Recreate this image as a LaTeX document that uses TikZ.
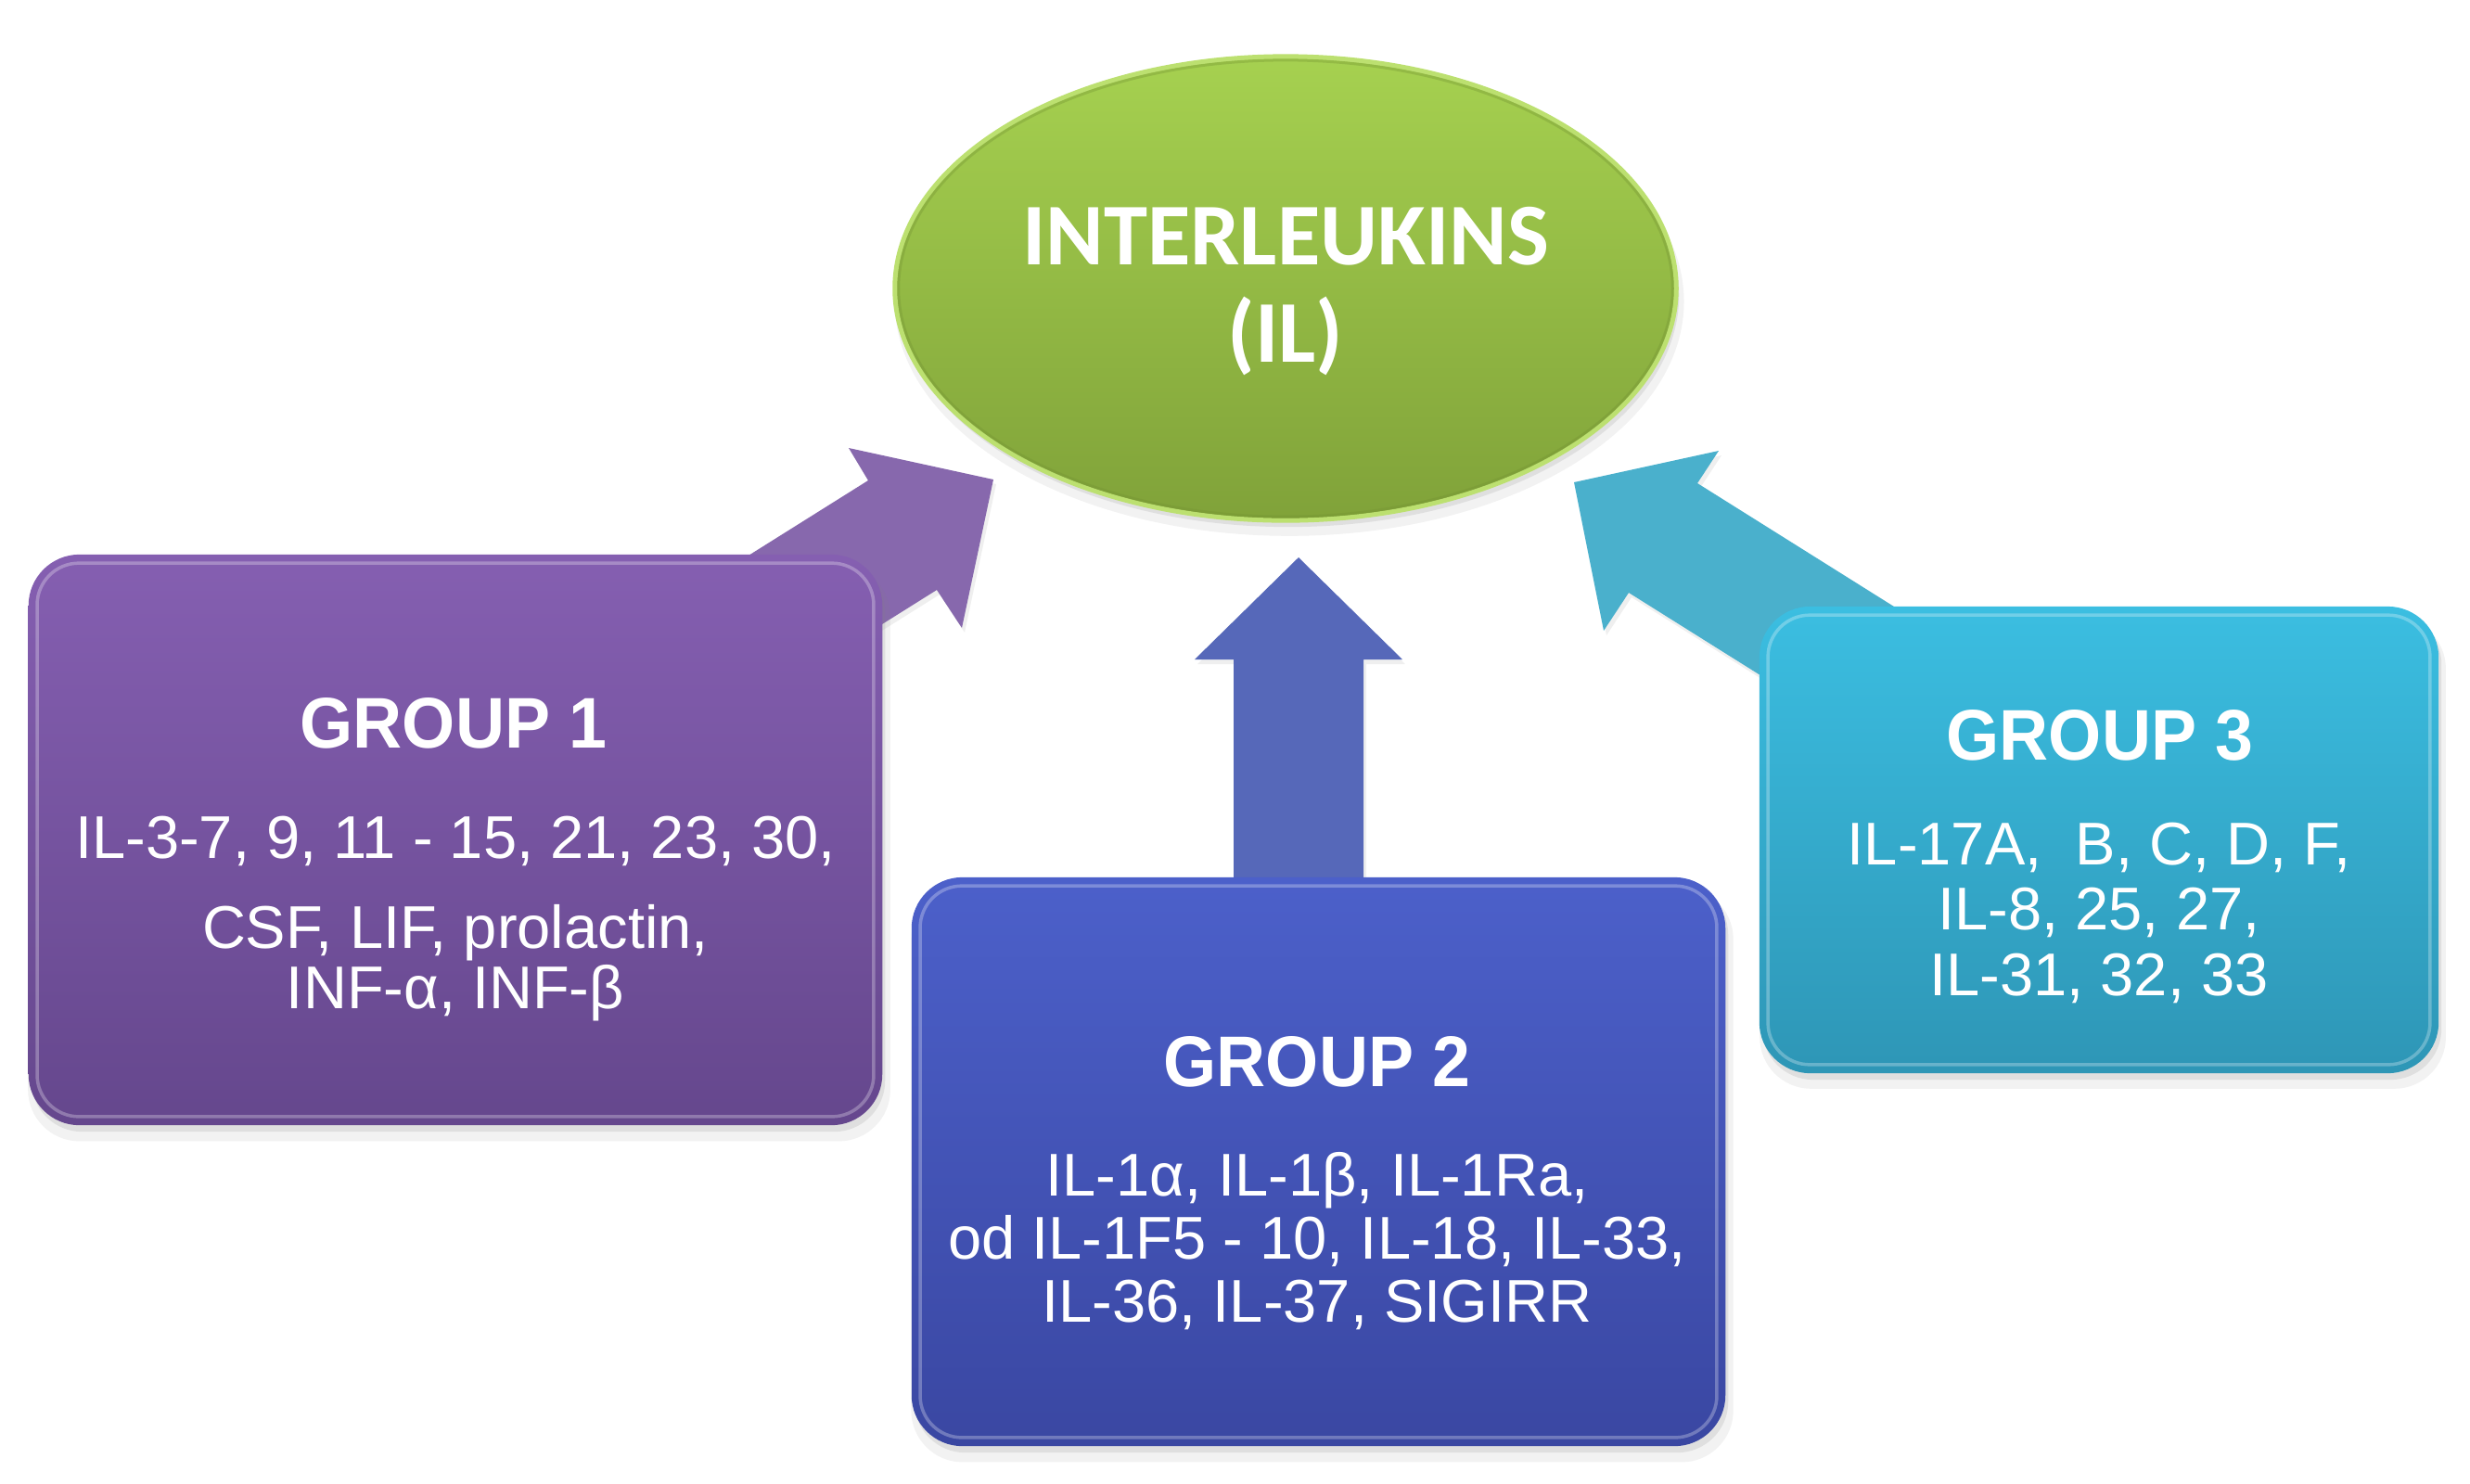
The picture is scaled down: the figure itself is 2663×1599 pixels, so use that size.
\documentclass[tikz,border=0pt]{standalone}
\usepackage{fontspec}
\setmainfont{Liberation Sans}
\newfontfamily\calfont{Carlito}
\newfontfamily\grpfont[FakeStretch=0.95]{Liberation Sans Bold}
\usetikzlibrary{shapes.geometric,shadows}
\definecolor{gTop}{HTML}{A6D150}
\definecolor{gBot}{HTML}{80A239}
\definecolor{gRim}{HTML}{BCE070}
\definecolor{pTop}{HTML}{855FB1}
\definecolor{pBot}{HTML}{65478D}
\definecolor{pArr}{HTML}{8768AD}
\definecolor{bTop}{HTML}{4C60CA}
\definecolor{bBot}{HTML}{3A47A2}
\definecolor{bArr}{HTML}{5668B9}
\definecolor{tTop}{HTML}{3BBEE1}
\definecolor{tBot}{HTML}{2E96B6}
\definecolor{tArr}{HTML}{4AB0CC}
\begin{document}
\begin{tikzpicture}[x=0.01cm,y=-0.01cm,
  softshadow/.style={drop shadow={opacity=0.10,shadow xshift=0.04cm,shadow yshift=-0.14cm,shadow scale=1.01},
                     drop shadow={opacity=0.16,shadow xshift=0.03cm,shadow yshift=-0.07cm}},
  groupbox/.style={rectangle,rounded corners=0.55cm,inner sep=0,softshadow},
  bevel/.style={draw=white,draw opacity=0.28,line width=0.035cm,rounded corners=0.45cm},
  txt/.style={text=white,anchor=base,inner sep=0},
  ttl/.style={txt,font=\grpfont\fontsize{22}{26}\selectfont},
  body/.style={txt,font=\fontsize{18.5}{22}\selectfont},
  iltxt/.style={txt,font=\calfont\bfseries\fontsize{27}{32}\selectfont}]
\useasboundingbox (0,0) rectangle (2663,1599);
\fill[white] (0,0) rectangle (2663,1599);

% ---------- central ellipse ----------
\node[ellipse,minimum width=8.42cm,minimum height=5.0cm,inner sep=0,
      top color=gTop,bottom color=gBot,draw=gRim,line width=0.05cm,softshadow] (il) at (1386,311) {};
\draw[gBot!90!black,opacity=0.35,line width=0.03cm] (1386,311) ellipse [x radius=4.17cm,y radius=2.46cm];
\node[iltxt] (iltitle) at (1386,285) {INTERLEUKINS};
\node[iltxt] (ilabbr) at (1386,390) {(IL)};

% ---------- block arrows (behind the boxes) ----------
\coordinate (pa1) at (665,688);  \coordinate (pa2) at (936,518);
\coordinate (pa3) at (915,483);  \coordinate (pa4) at (1071,517);
\coordinate (pa5) at (1037,677); \coordinate (pa6) at (1010,636);
\coordinate (pa7) at (739,806);
\fill[pArr,drop shadow={opacity=0.12,shadow xshift=0.03cm,shadow yshift=-0.05cm}]
  (pa1) -- (pa2) -- (pa3) -- (pa4) -- (pa5) -- (pa6) -- (pa7) -- cycle;

\coordinate (ta1) at (2101,691); \coordinate (ta2) at (1830,521);
\coordinate (ta3) at (1853,486); \coordinate (ta4) at (1697,520);
\coordinate (ta5) at (1729,680); \coordinate (ta6) at (1756,639);
\coordinate (ta7) at (2027,809);
\fill[tArr,drop shadow={opacity=0.12,shadow xshift=0.03cm,shadow yshift=-0.05cm}]
  (ta1) -- (ta2) -- (ta3) -- (ta4) -- (ta5) -- (ta6) -- (ta7) -- cycle;

\coordinate (ba1) at (1330,990); \coordinate (ba2) at (1330,711);
\coordinate (ba3) at (1288,711); \coordinate (ba4) at (1400,601);
\coordinate (ba5) at (1512,711); \coordinate (ba6) at (1470,711);
\coordinate (ba7) at (1470,990);
\fill[bArr,drop shadow={opacity=0.12,shadow xshift=0.03cm,shadow yshift=-0.05cm}]
  (ba1) -- (ba2) -- (ba3) -- (ba4) -- (ba5) -- (ba6) -- (ba7) -- cycle;

% ---------- group boxes ----------
\node[groupbox,minimum width=9.2cm,minimum height=6.15cm,top color=pTop,bottom color=pBot] (g1) at (491,905.5) {};
\draw[bevel] ([shift={(0.1cm,-0.1cm)}]g1.north west) rectangle ([shift={(-0.1cm,0.1cm)}]g1.south east);

\node[groupbox,minimum width=8.77cm,minimum height=6.13cm,top color=bTop,bottom color=bBot] (g2) at (1421.5,1252.5) {};
\draw[bevel] ([shift={(0.1cm,-0.1cm)}]g2.north west) rectangle ([shift={(-0.1cm,0.1cm)}]g2.south east);

\node[groupbox,minimum width=7.32cm,minimum height=5.03cm,top color=tTop,bottom color=tBot] (g3) at (2263,905.5) {};
\draw[bevel] ([shift={(0.1cm,-0.1cm)}]g3.north west) rectangle ([shift={(-0.1cm,0.1cm)}]g3.south east);

% ---------- texts ----------
\node[ttl] (g1t) at (489,806) {GROUP 1};
\node[body] (g1a) at (491,925) {IL-3-7, 9, 11 - 15, 21, 23, 30,};
\node[body] (g1b) at (491,1022) {CSF, LIF, prolactin,};
\node[body] (g1c) at (491,1087) {INF-α, INF-β};

\node[ttl] (g2t) at (1420,1171) {GROUP 2};
\node[body] (g2a) at (1420,1289) {IL-1α, IL-1β, IL-1Ra,};
\node[body] (g2b) at (1420,1357) {od IL-1F5 - 10, IL-18, IL-33,};
\node[body] (g2c) at (1420,1425) {IL-36, IL-37, SIGIRR};

\node[ttl] (g3t) at (2264,819) {GROUP 3};
\node[body] (g3a) at (2263,932) {IL-17A,\ \ B, C, D, F,};
\node[body] (g3b) at (2263,1002) {IL-8, 25, 27,};
\node[body] (g3c) at (2263,1073) {IL-31, 32, 33};
\end{tikzpicture}
\end{document}
